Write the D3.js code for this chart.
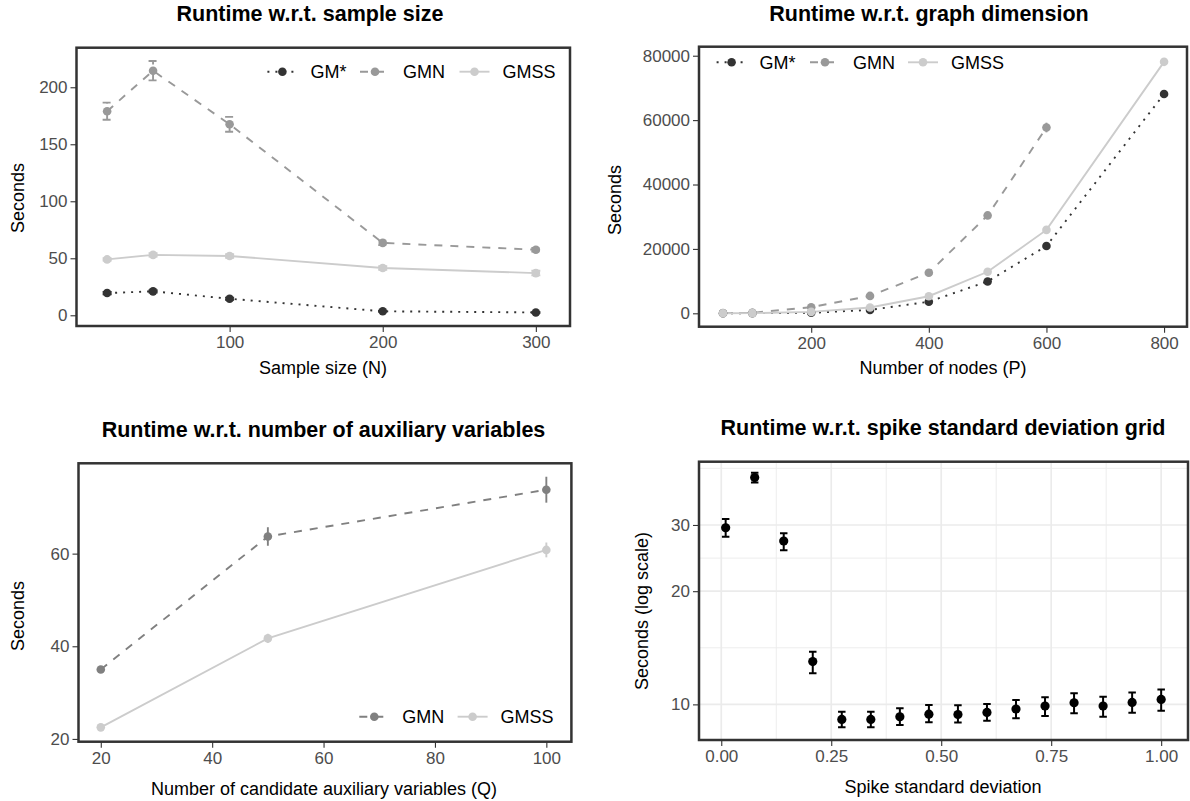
<!DOCTYPE html>
<html>
<head>
<meta charset="utf-8">
<script src="https://cdn.jsdelivr.net/npm/d3@7"></script>
<style>
  body { margin: 0; background: #fff; }
  text { font-family: "Liberation Sans", Arial, Helvetica, sans-serif; }
</style>
</head>
<body>
<div id="chart"></div>
<script>
// ---- data ----
// runtime vs sample size
var sampleN = [20, 50, 100, 200, 300];
var sampleGMstar = [19.5, 21, 14.5, 3.5, 2.5];
var sampleGMstarErr = [1, 1, 1, 0.5, 0.5];
var sampleGMN = [179, 214.5, 167.5, 63.5, 57.5];
var sampleGMNErr = [7.5, 8.5, 6.5, 2, 1.5];
var sampleGMSS = [49, 53, 52, 41.5, 37];
var sampleGMSSErr = [1, 1.5, 1.5, 1.5, 2];
var sampleXTicks = [100, 200, 300];
var sampleYTicks = [0, 50, 100, 150, 200];

// runtime vs graph dimension
var nodesP = [50, 100, 200, 300, 400, 500, 600, 800];
var nodesGMstar = [0, 50, 150, 1050, 3600, 9900, 20900, 68100];
var nodesGMstarErr = [0, 0, 50, 150, 300, 400, 600, 900];
var nodesGMN = [50, 150, 1900, 5400, 12600, 30400, 57700, null];
var nodesGMNErr = [0, 0, 100, 300, 500, 700, 1500, null];
var nodesGMSS = [0, 50, 450, 1800, 5300, 12900, 25900, 78100];
var nodesGMSSErr = [0, 0, 50, 150, 300, 500, 700, 800];
var nodesXTicks = [200, 400, 600, 800];
var nodesYTicks = [0, 20000, 40000, 60000, 80000];

// runtime vs number of auxiliary variables
var auxQ = [20, 50, 100];
var auxGMN = [35, 63.7, 73.8];
var auxGMNErr = [0.5, 2, 2.8];
var auxGMSS = [22.5, 41.7, 60.8];
var auxGMSSErr = [0.4, 1, 1.6];
var auxXTicks = [20, 40, 60, 80, 100];
var auxYTicks = [20, 40, 60];

// runtime vs spike standard deviation grid
var spikeSD = [0.010, 0.076, 0.142, 0.208, 0.274, 0.340, 0.406, 0.472,
               0.538, 0.604, 0.670, 0.736, 0.802, 0.868, 0.934, 1.000];
var spikeSec = [29.5, 40.1, 27.2, 13.0, 9.12, 9.12, 9.27, 9.42,
                9.40, 9.52, 9.72, 9.90, 10.10, 9.90, 10.12, 10.31];
var spikeLow = [27.9, 38.9, 25.7, 12.1, 8.69, 8.69, 8.81, 8.96,
                8.95, 9.05, 9.18, 9.31, 9.47, 9.27, 9.50, 9.62];
var spikeHigh = [31.1, 41.3, 28.5, 13.8, 9.56, 9.56, 9.76, 9.96,
                 9.94, 10.02, 10.27, 10.44, 10.70, 10.48, 10.75, 10.96];
var spikeXTicks = [0, 0.25, 0.5, 0.75, 1];
var spikeXMinor = [0.125, 0.375, 0.625, 0.875];
var spikeYTicks = [10, 20, 30];
var spikeYMinor = [14.14, 24.49, 42.43];

// ---- styles ----
var seriesStyle = {
  "GM*":  { color: "#333333", dash: "2,6" },
  "GMN":  { color: "#999999", dash: "8,8" },
  "GMSS": { color: "#cccccc", dash: null }
};

var w = 1190, h = 801;
var svg = d3.select("#chart").append("svg")
  .attr("width", w)
  .attr("height", h);

function styleAxis(a) {
  a.select(".domain").remove();
  a.selectAll(".tick line").attr("stroke", "#333333").attr("stroke-width", 1.1);
  a.selectAll(".tick text")
    .attr("fill", "#4d4d4d")
    .style("font-size", "17px");
}

function drawPanel(cfg) {
  var g = svg.append("g");
  var x = d3.scaleLinear().domain(cfg.xDomain).range([cfg.left, cfg.right]);
  var y = (cfg.yLog ? d3.scaleLog() : d3.scaleLinear())
    .domain(cfg.yDomain).range([cfg.bottom, cfg.top]);

  //background grid (only for the bw panel)
  if (cfg.grid) {
    g.selectAll("line.vmin").data(cfg.xMinor).enter().append("line")
      .attr("x1", d => x(d)).attr("x2", d => x(d))
      .attr("y1", cfg.top).attr("y2", cfg.bottom)
      .attr("stroke", "#ebebeb").attr("stroke-width", 0.9);
    g.selectAll("line.hmin").data(cfg.yMinor).enter().append("line")
      .attr("y1", d => y(d)).attr("y2", d => y(d))
      .attr("x1", cfg.left).attr("x2", cfg.right)
      .attr("stroke", "#ebebeb").attr("stroke-width", 0.9);
    g.selectAll("line.vmaj").data(cfg.xTicks).enter().append("line")
      .attr("x1", d => x(d)).attr("x2", d => x(d))
      .attr("y1", cfg.top).attr("y2", cfg.bottom)
      .attr("stroke", "#ebebeb").attr("stroke-width", 1.7);
    g.selectAll("line.hmaj").data(cfg.yTicks).enter().append("line")
      .attr("y1", d => y(d)).attr("y2", d => y(d))
      .attr("x1", cfg.left).attr("x2", cfg.right)
      .attr("stroke", "#ebebeb").attr("stroke-width", 1.7);
  }

  var xa = g.append("g")
    .attr("transform", "translate(0," + cfg.bottom + ")")
    .call(d3.axisBottom(x).tickValues(cfg.xTicks).tickFormat(cfg.xFmt).tickSize(6).tickPadding(4));
  styleAxis(xa);
  var ya = g.append("g")
    .attr("transform", "translate(" + cfg.left + ",0)")
    .call(d3.axisLeft(y).tickValues(cfg.yTicks).tickFormat(cfg.yFmt).tickSize(6).tickPadding(3));
  styleAxis(ya);

  var series = cfg.series.map(function(s) {
    var pts = [];
    s.x.forEach(function(v, i) {
      if (s.y[i] == null) return;
      var lo = s.lo ? s.lo[i] : s.y[i] - s.err[i];
      var hi = s.hi ? s.hi[i] : s.y[i] + s.err[i];
      pts.push({ x: v, y: s.y[i], lo: lo, hi: hi });
    });
    return { s: s, pts: pts };
  });

  //lines
  var line = d3.line().x(d => x(d.x)).y(d => y(d.y));
  series.forEach(function(o) {
    if (!o.s.line) return;
    g.append("path")
      .datum(o.pts)
      .attr("d", line)
      .attr("fill", "none")
      .attr("stroke", o.s.color)
      .attr("stroke-width", 1.9)
      .attr("stroke-dasharray", o.s.dash);
  });

  //error bars
  series.forEach(function(o) {
    var half = cfg.capW / 2;
    var eb = g.selectAll(null).data(o.pts).enter().append("path")
      .attr("d", function(d) {
        var cx = x(d.x), y0 = y(d.lo), y1 = y(d.hi);
        var p = "M" + cx + "," + y0 + "L" + cx + "," + y1;
        if (half > 0) {
          p += "M" + (cx - half) + "," + y0 + "L" + (cx + half) + "," + y0;
          p += "M" + (cx - half) + "," + y1 + "L" + (cx + half) + "," + y1;
        }
        return p;
      })
      .attr("fill", "none")
      .attr("stroke", o.s.color)
      .attr("stroke-width", cfg.ebWidth)
      .attr("stroke-dasharray", cfg.ebDash ? o.s.dash : null);
  });

  //points
  series.forEach(function(o) {
    g.selectAll(null).data(o.pts).enter().append("circle")
      .attr("cx", d => x(d.x))
      .attr("cy", d => y(d.y))
      .attr("r", cfg.r)
      .attr("fill", o.s.color);
  });

  //panel border
  g.append("rect")
    .attr("x", cfg.left).attr("y", cfg.top)
    .attr("width", cfg.right - cfg.left)
    .attr("height", cfg.bottom - cfg.top)
    .attr("fill", "none")
    .attr("stroke", "#333333")
    .attr("stroke-width", 2.5);

  //titles
  g.append("text")
    .attr("x", cfg.titleX).attr("y", cfg.titleY)
    .attr("text-anchor", "middle")
    .style("font-size", "21.5px").style("font-weight", "bold")
    .attr("fill", "#000")
    .text(cfg.title);
  g.append("text")
    .attr("x", cfg.xLabelX).attr("y", cfg.xLabelY)
    .attr("text-anchor", "middle")
    .style("font-size", "18px")
    .attr("fill", "#000")
    .text(cfg.xLabel);
  g.append("text")
    .attr("transform", "translate(" + cfg.yLabelX + "," + cfg.yLabelY + ") rotate(-90)")
    .attr("text-anchor", "middle")
    .style("font-size", "18px")
    .attr("fill", "#000")
    .text(cfg.yLabel);

  //legend
  if (cfg.legend) {
    cfg.series.forEach(function(s, i) {
      var cx = cfg.legend.centers[i], cy = cfg.legend.y;
      g.append("line")
        .attr("x1", cx - 15).attr("x2", cx + 15)
        .attr("y1", cy).attr("y2", cy)
        .attr("stroke", s.color).attr("stroke-width", 1.9)
        .attr("stroke-dasharray", s.dash);
      g.append("circle").attr("cx", cx).attr("cy", cy).attr("r", cfg.r).attr("fill", s.color);
      g.append("text")
        .attr("x", cx + 28).attr("y", cy + 6.5)
        .style("font-size", "18px")
        .attr("fill", "#000")
        .text(s.name);
    });
  }
}

function mkSeries(name, xs, ys, errs, color) {
  var st = seriesStyle[name];
  return { name: name, x: xs, y: ys, err: errs, color: color || st.color, dash: st.dash, line: true };
}

drawPanel({
  left: 76.5, right: 570, top: 47.7, bottom: 326,
  xDomain: [0, 322.3], yDomain: [-9.4, 234.7],
  xTicks: sampleXTicks, yTicks: sampleYTicks,
  xFmt: d3.format("d"), yFmt: d3.format("d"),
  r: 4.3, capW: 9, ebWidth: 1.9, ebDash: true,
  title: "Runtime w.r.t. sample size", titleX: 310, titleY: 21,
  xLabel: "Sample size (N)", xLabelX: 323, xLabelY: 374,
  yLabel: "Seconds", yLabelX: 23.5, yLabelY: 198,
  series: [
    mkSeries("GM*", sampleN, sampleGMstar, sampleGMstarErr),
    mkSeries("GMN", sampleN, sampleGMN, sampleGMNErr),
    mkSeries("GMSS", sampleN, sampleGMSS, sampleGMSSErr)
  ],
  legend: { y: 71.7, centers: [282.4, 375, 474.5] }
});

drawPanel({
  left: 699, right: 1187, top: 46.7, bottom: 326.7,
  xDomain: [9.2, 839], yDomain: [-4160, 82800],
  xTicks: nodesXTicks, yTicks: nodesYTicks,
  xFmt: d3.format("d"), yFmt: d3.format("d"),
  r: 4.3, capW: 0, ebWidth: 1.9, ebDash: false,
  title: "Runtime w.r.t. graph dimension", titleX: 929, titleY: 21,
  xLabel: "Number of nodes (P)", xLabelX: 943, xLabelY: 374,
  yLabel: "Seconds", yLabelX: 620.5, yLabelY: 200,
  series: [
    mkSeries("GM*", nodesP, nodesGMstar, nodesGMstarErr),
    mkSeries("GMN", nodesP, nodesGMN, nodesGMNErr),
    mkSeries("GMSS", nodesP, nodesGMSS, nodesGMSSErr)
  ],
  legend: { y: 62.3, centers: [731.6, 825, 923] }
});

drawPanel({
  left: 78.5, right: 571.4, top: 463.3, bottom: 741.7,
  xDomain: [16, 104.5], yDomain: [19.4, 79.5],
  xTicks: auxXTicks, yTicks: auxYTicks,
  xFmt: d3.format("d"), yFmt: d3.format("d"),
  r: 4.3, capW: 0, ebWidth: 1.9, ebDash: false,
  title: "Runtime w.r.t. number of auxiliary variables", titleX: 323.5, titleY: 437,
  xLabel: "Number of candidate auxiliary variables (Q)", xLabelX: 324, xLabelY: 795,
  yLabel: "Seconds", yLabelX: 23.5, yLabelY: 616,
  series: [
    mkSeries("GMN", auxQ, auxGMN, auxGMNErr, "#808080"),
    mkSeries("GMSS", auxQ, auxGMSS, auxGMSSErr)
  ],
  legend: { y: 716.7, centers: [374.3, 472.6] }
});

drawPanel({
  left: 699, right: 1188, top: 461.7, bottom: 740,
  xDomain: [-0.0506, 1.061], yDomain: [8.04, 44.2], yLog: true,
  grid: true, xMinor: spikeXMinor, yMinor: spikeYMinor,
  xTicks: spikeXTicks, yTicks: spikeYTicks,
  xFmt: d3.format(".2f"), yFmt: d3.format("d"),
  r: 4.6, capW: 7.5, ebWidth: 2, ebDash: false,
  title: "Runtime w.r.t. spike standard deviation grid", titleX: 943, titleY: 435,
  xLabel: "Spike standard deviation", xLabelX: 943, xLabelY: 793,
  yLabel: "Seconds (log scale)", yLabelX: 648, yLabelY: 611,
  series: [
    { name: "spike", x: spikeSD, y: spikeSec, lo: spikeLow, hi: spikeHigh, color: "#000000", dash: null, line: false }
  ]
});
</script>
</body>
</html>
